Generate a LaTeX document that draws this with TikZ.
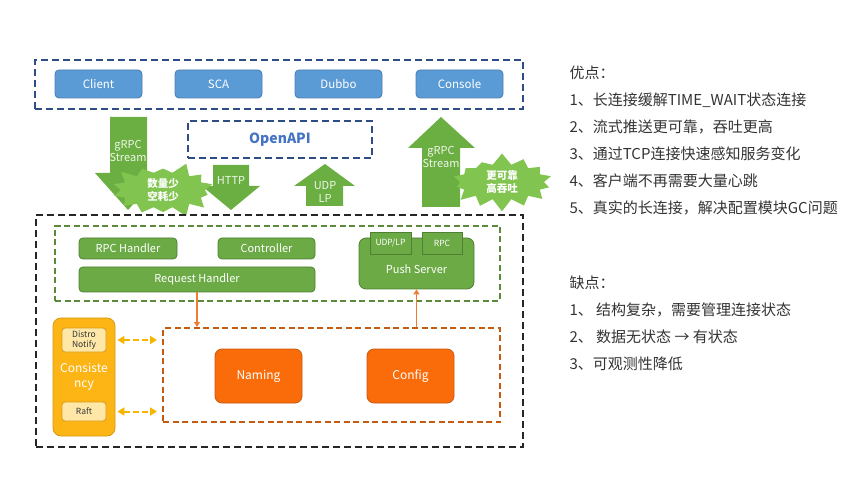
\documentclass[tikz,border=0pt]{standalone}
\usepackage{fontspec}
\newfontfamily\cjk{Noto Sans CJK SC}
\usetikzlibrary{shapes.symbols,arrows.meta}
\definecolor{bluefill}{HTML}{5B9BD5}
\definecolor{blueline}{HTML}{4A7EB0}
\definecolor{navy}{HTML}{2E4D86}
\definecolor{openblue}{HTML}{4472C4}
\definecolor{garrow}{HTML}{6BAE42}
\definecolor{gburst}{HTML}{82C450}
\definecolor{gfill}{HTML}{6BAA45}
\definecolor{gline}{HTML}{4F7F32}
\definecolor{gdash}{HTML}{5A8A3A}
\definecolor{odash}{HTML}{C55A11}
\definecolor{ofill}{HTML}{FA6C0A}
\definecolor{oline}{HTML}{C9570E}
\definecolor{oarrow}{HTML}{ED7D31}
\definecolor{yfill}{HTML}{FDB515}
\definecolor{yarr}{HTML}{F7B500}
\definecolor{yline}{HTML}{D79A10}
\definecolor{ylight}{HTML}{FFE7A8}
\definecolor{txt}{HTML}{333333}
\definecolor{arrtxt}{HTML}{EEF7E8}
\begin{document}
\begin{tikzpicture}[x=1pt,y=-1pt,
  every node/.style={font=\cjk},
  box/.style={rounded corners=4pt, line width=0.8pt, inner sep=0pt, text=white},
  bluebox/.style={box, fill=bluefill, draw=blueline, font=\cjk\fontsize{11.5}{13}\selectfont},
  greenbox/.style={box, fill=gfill, draw=gline, font=\cjk\fontsize{11}{13}\selectfont},
  smallgreen/.style={fill=gfill, draw=gline, line width=0.8pt, inner sep=0pt, text=white, font=\cjk\fontsize{8.5}{10}\selectfont},
  orbox/.style={box, rounded corners=7pt, fill=ofill, draw=oline, font=\cjk\fontsize{12}{14}\selectfont},
  ylbox/.style={rounded corners=3pt, fill=ylight, draw=yline, line width=0.8pt, inner sep=0pt, text=txt, align=center, font=\cjk\fontsize{8.5}{10}\selectfont},
  framebox/.style={draw=#1, line width=2.2pt, dash pattern=on 7pt off 4pt, inner sep=0pt},
  blockarrow/.style={fill=garrow, draw=none},
  arrtext/.style={text=arrtxt, align=center, font=\cjk\fontsize{11}{13}\selectfont},
  burst/.style={starburst, fill=gburst, draw=none, text=white, align=center, inner sep=1pt,
    font=\cjk\bfseries\fontsize{10.5}{13}\selectfont, starburst point height=12pt, starburst points=14},
  orarrow/.style={draw=oarrow, line width=1.3pt, -{Triangle[length=5pt,width=6pt]}},
  yarrow/.style={draw=yarr, line width=2pt, dash pattern=on 6pt off 3pt, {Triangle[length=7pt,width=8pt]}-{Triangle[length=7pt,width=8pt]}},
  note/.style={anchor=west, text=txt, font=\cjk\fontsize{15}{18}\selectfont}
]
\useasboundingbox (0,0) rectangle (860,489);

% top client row
\node[framebox=navy, minimum width=488pt, minimum height=49pt] (topframe) at (279,84.5) {};
\node[bluebox, minimum width=87pt, minimum height=28pt] (client) at (98.5,84) {Client};
\node[bluebox, minimum width=87pt, minimum height=28pt] (sca) at (218.5,84) {SCA};
\node[bluebox, minimum width=87pt, minimum height=28pt] (dubbo) at (338.5,84) {Dubbo};
\node[bluebox, minimum width=87pt, minimum height=28pt] (console) at (459.5,84) {Console};

% OpenAPI
\node[framebox=navy, minimum width=184pt, minimum height=37pt, text=openblue,
  font=\cjk\bfseries\fontsize{14}{16}\selectfont] (openapi) at (280,139.5) {OpenAPI};

% block arrows
\fill[blockarrow] (110,117) -- (147,117) -- (147,173) -- (161,173) -- (128,210) -- (95,173) -- (110,173) -- cycle;
\node[arrtext] (grpcl) at (128,151) {gRPC\\Stream};
\fill[blockarrow] (213,165) -- (249,165) -- (249,186) -- (260,186) -- (231,210) -- (202,186) -- (213,186) -- cycle;
\node[arrtext] (http) at (231,180) {HTTP};
\fill[blockarrow] (306,206) -- (343,206) -- (343,186) -- (355,186) -- (325,164) -- (294,186) -- (306,186) -- cycle;
\node[arrtext] (udp) at (325,191.5) {UDP\\LP};
\fill[blockarrow] (422,207) -- (460,207) -- (460,148) -- (475,148) -- (441,117) -- (408,148) -- (422,148) -- cycle;
\node[arrtext] (grpcr) at (441,157) {gRPC\\Stream};

% starbursts
\node[burst, random starburst=3, minimum width=108pt, minimum height=50pt] (burstl) at (163,190) {数量少\\空耗少};
\node[burst, random starburst=7, minimum width=108pt, minimum height=52pt] (burstr) at (502,182) {更可靠\\高吞吐};

% server frame
\node[framebox=black!85, line width=2.4pt, minimum width=487pt, minimum height=232pt] (server) at (279.5,331) {};
\node[framebox=gdash, line width=2pt, dash pattern=on 6pt off 3.5pt, minimum width=445pt, minimum height=75pt] (gframe) at (277.5,263.5) {};
\node[greenbox, minimum width=98pt, minimum height=21pt] (rpch) at (128,248.5) {RPC Handler};
\node[greenbox, minimum width=97pt, minimum height=21pt] (ctrl) at (266.5,248.5) {Controller};
\node[greenbox, minimum width=236pt, minimum height=25pt] (reqh) at (197,279.5) {Request Handler};
\node[greenbox, rounded corners=7pt, minimum width=115pt, minimum height=51pt] (push) at (416.5,263.5) {};
\node[text=white, font=\cjk\fontsize{11}{13}\selectfont] (pushlbl) at (416.5,269.5) {Push Server};
\node[smallgreen, minimum width=41pt, minimum height=22pt] (udplp) at (390.5,243) {UDP/LP};
\node[smallgreen, minimum width=40pt, minimum height=22pt] (rpc) at (442,243) {RPC};

% data layer
\node[framebox=odash, line width=2pt, dash pattern=on 6pt off 3.5pt, minimum width=337pt, minimum height=94pt] (oframe) at (331.5,375) {};
\node[orbox, minimum width=87pt, minimum height=54pt] (naming) at (258.5,376) {Naming};
\node[orbox, minimum width=87pt, minimum height=54pt] (config) at (410.5,376) {Config};

\draw[orarrow] (reqh.south) -- (reqh.south |- oframe.north);
\draw[orarrow] (push.south |- oframe.north) -- (push.south);

% consistency
\node[rounded corners=8pt, fill=yfill, draw=yline, line width=0.8pt, minimum width=62pt, minimum height=118pt] (consist) at (84,377) {};
\node[text=white, align=center, font=\cjk\fontsize{12}{15}\selectfont] (consistlbl) at (84,377) {Consiste\\ncy};
\node[ylbox, minimum width=44pt, minimum height=24pt] (distro) at (84,340) {Distro\\Notify};
\node[ylbox, minimum width=44pt, minimum height=19pt] (raft) at (84,411.5) {Raft};

\draw[yarrow, shorten <=2pt, shorten >=5pt] (distro.east -| consist.east) -- (distro.east -| oframe.west);
\draw[yarrow, shorten <=2pt, shorten >=5pt] (raft.east -| consist.east) -- (raft.east -| oframe.west);

% notes
\node[note] (pros) at (566,73) {优点：};
\node[note] (p1) at (566,100) {1、长连接缓解TIME\_WAIT状态连接};
\node[note] (p2) at (566,127) {2、流式推送更可靠，吞吐更高};
\node[note] (p3) at (566,154) {3、通过TCP连接快速感知服务变化};
\node[note] (p4) at (566,181) {4、客户端不再需要大量心跳};
\node[note] (p5) at (566,208) {5、真实的长连接，解决配置模块GC问题};
\node[note] (cons) at (566,283) {缺点：};
\node[note] (c1) at (566,310) {1、 结构复杂，需要管理连接状态};
\node[note] (c2) at (566,337) {2、 数据无状态 → 有状态};
\node[note] (c3) at (566,364) {3、可观测性降低};
\end{tikzpicture}
\end{document}
